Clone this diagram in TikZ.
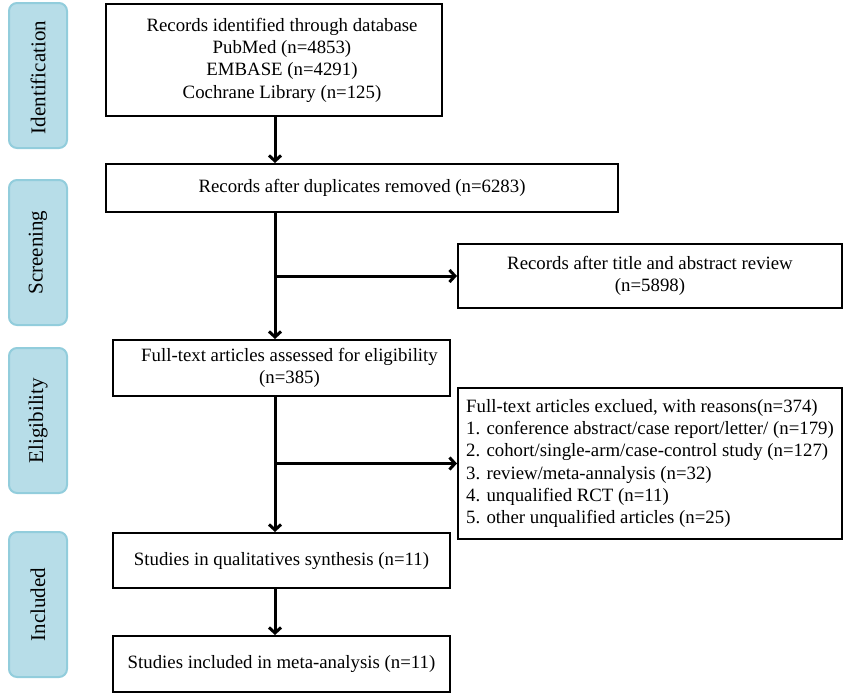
\documentclass[tikz,border=0pt]{standalone}
\usepackage{fontspec}
\setmainfont{Liberation Serif}
\usetikzlibrary{arrows.meta}
\definecolor{stagefill}{RGB}{183,221,232}
\definecolor{stagedraw}{RGB}{146,205,220}
\newcommand{\shiftr}{\hspace*{16pt}}
\begin{document}
\begin{tikzpicture}[x=1pt,y=-1pt,
  every node/.style={font=\fontsize{18.8}{22.3}\selectfont},
  box/.style={draw=black,line width=2pt,inner sep=0pt,align=center},
  stage/.style={draw=stagedraw,fill=stagefill,line width=2pt,rounded corners=8pt,
    minimum width=58pt,minimum height=145pt,inner sep=0pt},
  stagetext/.style={rotate=90,font=\fontsize{21}{24}\selectfont},
  arr/.style={line width=3pt,-{Straight Barb[length=5.5pt,width=12pt]}}]
\useasboundingbox (0,0) rectangle (856,696);
% stage labels
\node[stage] (sid) at (38,75.5) {};
\node[stagetext] (tid) at ([yshift=-2pt]sid.center) {Identification};
\node[stage] (ssc) at (38,252.5) {};
\node[stagetext] (tsc) at (ssc.center) {Screening};
\node[stage] (sel) at (38,420.5) {};
\node[stagetext] (tel) at (sel.center) {Eligibility};
\node[stage] (sin) at (38,604.5) {};
\node[stagetext] (tin) at (sin.center) {Included};
% boxes
\node[box,minimum width=336pt,minimum height=112pt] (b1) at (274,60)
  {\shiftr Records identified through database\\\shiftr PubMed (n=4853)\\\shiftr EMBASE (n=4291)\\\shiftr Cochrane Library (n=125)};
\node[box,minimum width=512pt,minimum height=48pt] (b2) at (362,188)
  {Records after duplicates removed (n=6283)};
\node[box,minimum width=384pt,minimum height=64pt] (s1) at (650,276)
  {Records after title and abstract review\\(n=5898)};
\node[box,minimum width=337pt,minimum height=56pt] (b3) at (281.5,368)
  {\shiftr Full-text articles assessed for eligibility\\\shiftr (n=385)};
\node[box,minimum width=384pt,minimum height=151pt,align=left] (ex) at (650,463.5)
  {Full-text articles exclued, with reasons(n=374)\\
   1. conference abstract/case report/letter/ (n=179)\\
   2. cohort/single-arm/case-control study (n=127)\\
   3. review/meta-annalysis (n=32)\\
   4. unqualified RCT (n=11)\\
   5. other unqualified articles (n=25)};
\node[box,minimum width=337pt,minimum height=55pt] (b4) at (281.5,560.5)
  {Studies in qualitatives synthesis (n=11)};
\node[box,minimum width=337pt,minimum height=56pt] (b5) at (281.5,664)
  {Studies included in meta-analysis (n=11)};
% connectors
\coordinate (tr) at (275,0);
\draw[arr] (b1.south -| tr) -- (b2.north -| tr);
\draw[arr] (b2.south -| tr) -- (b3.north -| tr);
\draw[arr] (s1.west -| tr) -- (s1.west);
\draw[arr] (b3.south -| tr) -- (b4.north -| tr);
\draw[arr] (ex.west -| tr) -- (ex.west);
\draw[arr] (b4.south -| tr) -- (b5.north -| tr);
\end{tikzpicture}
\end{document}
